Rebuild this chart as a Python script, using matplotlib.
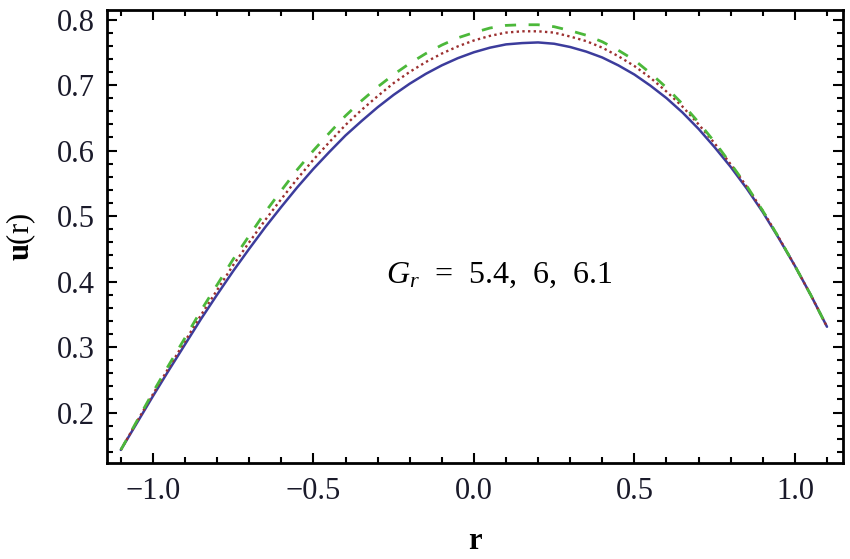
import matplotlib
matplotlib.use("Agg")
import matplotlib.pyplot as plt
from matplotlib.ticker import MultipleLocator, FuncFormatter

# ---- data ----
r = [-1.10, -1.05, -1.00, -0.95, -0.90, -0.85, -0.80, -0.75, -0.70, -0.65, -0.60,
     -0.55, -0.50, -0.45, -0.40, -0.35, -0.30, -0.25, -0.20, -0.15, -0.10, -0.05,
     0.00, 0.05, 0.10, 0.15, 0.20, 0.25, 0.30, 0.35, 0.40, 0.45, 0.50,
     0.55, 0.60, 0.65, 0.70, 0.75, 0.80, 0.85, 0.90, 0.95, 1.00, 1.05, 1.10]
u_gr54 = [0.143, 0.184, 0.225, 0.265, 0.304, 0.343, 0.380, 0.416, 0.450, 0.483, 0.514,
          0.544, 0.572, 0.598, 0.623, 0.645, 0.666, 0.685, 0.702, 0.717, 0.730, 0.741,
          0.750, 0.757, 0.762, 0.764, 0.765, 0.763, 0.758, 0.751, 0.742, 0.730, 0.716,
          0.699, 0.680, 0.658, 0.633, 0.605, 0.575, 0.542, 0.506, 0.466, 0.424, 0.379, 0.331]
u_gr6 = [0.143, 0.186, 0.228, 0.269, 0.309, 0.349, 0.387, 0.425, 0.460, 0.494, 0.526,
         0.557, 0.586, 0.613, 0.639, 0.662, 0.683, 0.703, 0.720, 0.735, 0.748, 0.759,
         0.768, 0.775, 0.780, 0.782, 0.782, 0.780, 0.774, 0.767, 0.757, 0.744, 0.729,
         0.711, 0.690, 0.667, 0.640, 0.611, 0.579, 0.545, 0.508, 0.467, 0.424, 0.379, 0.331]
u_gr61 = [0.143, 0.187, 0.231, 0.273, 0.314, 0.356, 0.395, 0.434, 0.470, 0.506, 0.539,
          0.571, 0.600, 0.627, 0.653, 0.676, 0.697, 0.716, 0.733, 0.748, 0.761, 0.772,
          0.780, 0.787, 0.791, 0.792, 0.792, 0.789, 0.783, 0.776, 0.766, 0.753, 0.738,
          0.718, 0.696, 0.671, 0.643, 0.613, 0.580, 0.546, 0.508, 0.467, 0.424, 0.379, 0.331]
annotation = r"$G_r$  =  5.4,  6,  6.1"

plt.rcParams['font.family'] = ['Liberation Serif', 'DejaVu Serif']
plt.rcParams['mathtext.fontset'] = 'custom'
plt.rcParams['mathtext.rm'] = 'Liberation Serif'
plt.rcParams['mathtext.it'] = 'Liberation Serif:italic'
plt.rcParams['mathtext.bf'] = 'Liberation Serif:bold'

fig = plt.figure(figsize=(8.5, 5.59), dpi=100)
ax = fig.add_axes([0.1259, 0.1717, 0.8659, 0.8104])

ax.plot(r, u_gr54, color='#3c3c9c', lw=1.8, solid_capstyle='round', solid_joinstyle='round')
ax.plot(r, u_gr6, color='#9c3030', lw=1.7, linestyle=(0, (1, 1.4)))
ax.plot(r, u_gr61, color='#4cb83a', lw=2.0, linestyle=(0, (4, 4.5)))

ax.set_xlim(-1.143, 1.150)
ax.set_ylim(0.123, 0.8145)

fmt = FuncFormatter(lambda v, p: ('%.1f' % v).replace('-', '\u2212'))
ax.xaxis.set_major_locator(MultipleLocator(0.5))
ax.xaxis.set_minor_locator(MultipleLocator(0.1))
ax.yaxis.set_major_locator(MultipleLocator(0.1))
ax.yaxis.set_minor_locator(MultipleLocator(0.02))
ax.xaxis.set_major_formatter(fmt)
ax.yaxis.set_major_formatter(fmt)

ax.tick_params(which='both', direction='in', top=True, right=True,
               labelsize=22, colors='black', labelcolor='#1a1a2a', width=1.5)
ax.tick_params(which='major', length=7)
ax.tick_params(which='minor', length=4)
ax.tick_params(axis='x', which='major', pad=10)
ax.tick_params(axis='y', which='major', pad=9)
for s in ax.spines.values():
    s.set_linewidth(2)

ax.set_xlabel('r', fontsize=22, fontweight='bold', labelpad=15)
ax.set_ylabel(r'$\mathbf{u}$(r)', fontsize=22, labelpad=13)

ax.text(0.08, 0.41, annotation, fontsize=23, ha='center', va='center',
        transform=ax.transData)

fig.savefig('out.png', dpi=100)
